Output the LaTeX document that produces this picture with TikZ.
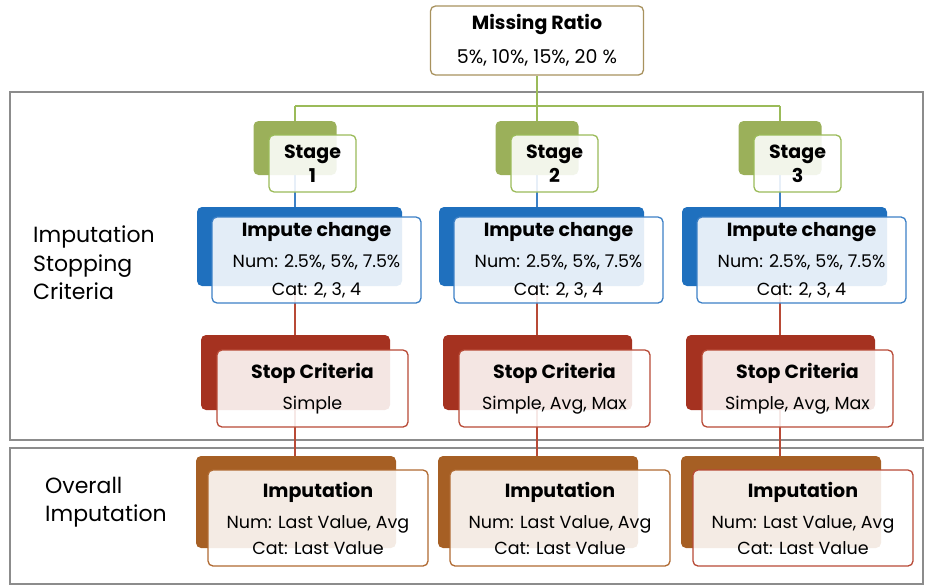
\documentclass[tikz,border=0pt]{standalone}
\usepackage{fontspec}
\setmainfont{Poppins}
\usetikzlibrary{backgrounds}

\definecolor{stagegreen}{HTML}{9BB05A}
\definecolor{stageline}{HTML}{9BBB59}
\definecolor{imputeblue}{HTML}{1F70BE}
\definecolor{imputeline}{HTML}{3C80C6}
\definecolor{stopred}{HTML}{A53220}
\definecolor{stopline}{HTML}{B84A36}
\definecolor{overallbrown}{HTML}{A65F24}
\definecolor{overallline}{HTML}{B06A32}
\definecolor{ratioline}{HTML}{A8925E}
\definecolor{framegray}{HTML}{8C8C8C}

\tikzset{
	back/.style={rectangle,rounded corners=5pt,inner sep=0pt},
	front/.style={rectangle,rounded corners=5pt,draw,line width=1.3pt,inner sep=0pt,fill=white,
		align=center,fill opacity=0.88,text opacity=1,font=\fontsize{17.5}{28}\selectfont},
	sidelabel/.style={anchor=west,align=left,inner sep=0pt,font=\fontsize{22}{28.5}\selectfont},
	frame/.style={draw=framegray,line width=1.3pt},
	link/.style={line width=1.3pt}
}
\newcommand{\boxtitle}[1]{{\bfseries\fontsize{19}{22}\selectfont #1}}

\begin{document}
\begin{tikzpicture}[x=1pt,y=-1pt]
	\useasboundingbox (0,0) rectangle (925,586);

	\node[front,draw=ratioline,fill opacity=1,minimum width=213pt,minimum height=69pt] (ratio) at (537,40.5)
		{\boxtitle{Missing Ratio}\\[6pt] \fontsize{19}{22}\selectfont 5\%, 10\%, 15\%, 20 \%};

	\node[sidelabel] (stoplabel) at (33,263) {Imputation\\Stopping\\Criteria};
	\node[sidelabel] (overalllabel) at (45,502) {Overall\\Imputation};

	\foreach \i/\c/\stoptext/\lastline in {1/295/Simple/overallline,2/537/{Simple, Avg, Max}/overallline,3/780/{Simple, Avg, Max}/stopline}{
		\coordinate (bus\i) at (\c,106);
		% stage
		\node[back,fill=stagegreen,minimum width=83pt,minimum height=54pt] (sb\i) at (\c,148) {};
		\node[front,draw=stageline,minimum width=87pt,minimum height=57pt,font=\bfseries\fontsize{19}{24}\selectfont] (sf\i) at (\c+17.5,163.5) {Stage\\\i};
		% impute change
		\node[back,fill=imputeblue,minimum width=205pt,minimum height=79pt] (ib\i) at (\c+4.5,246.5) {};
		\node[front,draw=imputeline,minimum width=209pt,minimum height=86pt] (if\i) at (\c+21.5,260)
			{\boxtitle{Impute change}\\[3pt] Num: 2.5\%, 5\%, 7.5\%\\ Cat: 2, 3, 4};
		% stop criteria
		\node[back,fill=stopred,minimum width=189pt,minimum height=75pt] (tb\i) at (\c+0.5,372.5) {};
		\node[front,draw=stopline,minimum width=191pt,minimum height=77pt] (tf\i) at (\c+17.5,388.5)
			{\boxtitle{Stop Criteria}\\[3pt] \stoptext};
		% imputation
		\node[back,fill=overallbrown,minimum width=200pt,minimum height=92pt] (ob\i) at (\c+1,502) {};
		\node[front,draw=\lastline,minimum width=220pt,minimum height=96pt] (of\i) at (\c+23,518)
			{\boxtitle{Imputation}\\[3pt] Num: Last Value, Avg\\[-2pt] Cat: Last Value};
	}

	\begin{scope}[on background layer]
		\draw[frame] (10,92) rectangle (923,440);
		\draw[frame] (10,448) rectangle (923,584);
		\draw[link,stageline] (ratio.south) -- (bus2);
		\draw[link,stageline] (bus1) -- (bus3);
		\foreach \i in {1,2,3}{
			\draw[link,stageline] (bus\i) -- (sb\i.north);
			\draw[link,imputeline] (sb\i.south) -- (sb\i.south |- ib\i.north);
			\draw[link,stopline] (sb\i.south |- ib\i.south) -- (sb\i.south |- tb\i.north);
			\draw[link,stopline] (sb\i.south |- tb\i.south) -- (sb\i.south |- ob\i.north);
		}
	\end{scope}
\end{tikzpicture}
\end{document}
